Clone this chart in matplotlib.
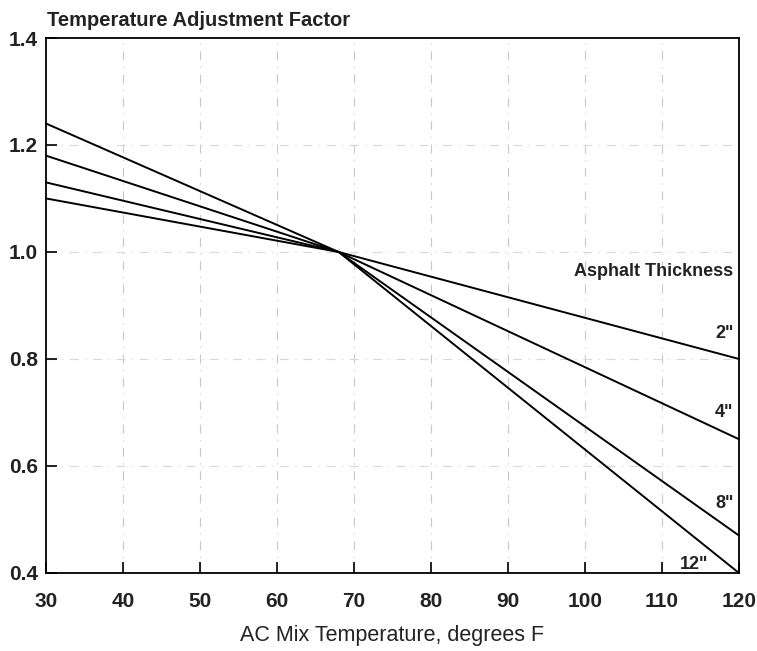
import matplotlib.pyplot as plt
import numpy as np

plt.rcParams['font.family'] = ['Liberation Sans', 'DejaVu Sans']

# temperature points (deg F): left end, pivot, right end
temps = [30, 68, 120]
thickness = ['2"', '4"', '8"', '12"']
factors = {
    '2"': [1.10, 1.0, 0.80],
    '4"': [1.13, 1.0, 0.65],
    '8"': [1.18, 1.0, 0.47],
    '12"': [1.24, 1.0, 0.40],
}
label_pos = {'2"': (119.3, 0.847), '4"': (119.3, 0.70), '8"': (119.3, 0.529), '12"': (116.0, 0.415)}

xticks = np.arange(30, 121, 10)
yticks = [0.4, 0.6, 0.8, 1.0, 1.2, 1.4]

fig = plt.figure(figsize=(7.57, 6.51), dpi=100)
ax = fig.add_axes([0.061, 0.12, 0.915, 0.8216])

for x in xticks[1:-1]:
    ax.axvline(x, color='#c8c8c8', lw=0.8, ls=(0, (8, 6, 1, 6)), zorder=0)
for y in yticks[1:-1]:
    ax.axhline(y, color='#d8d8d8', lw=0.8, ls=(0, (8, 6, 1, 6)), zorder=0)

for t in thickness:
    ax.plot(temps, factors[t], color='black', lw=1.4, clip_on=False)
    lx, ly = label_pos[t]
    ax.text(lx, ly, t, ha='right', va='center', fontsize=13, fontweight='bold', color='#222222')

ax.text(119.2, 0.963, 'Asphalt Thickness', ha='right', va='center', fontsize=13,
        fontweight='bold', color='#222222')

ax.set_xlim(30, 120)
ax.set_ylim(0.4, 1.4)
ax.set_xticks(xticks)
ax.set_yticks(yticks)
ax.set_yticklabels([f'{v:.1f}' for v in yticks])
ax.tick_params(direction='in', length=8, width=1.2, labelsize=15)
ax.tick_params(axis='x', pad=14)
ax.tick_params(axis='y', pad=6)
for lab in ax.get_xticklabels() + ax.get_yticklabels():
    lab.set_fontweight('bold')
    lab.set_color('#222222')
for s in ax.spines.values():
    s.set_linewidth(1.3)

ax.set_xlabel('AC Mix Temperature, degrees F', fontsize=15.5, color='#222222', labelpad=10)
fig.text(0.062, 0.968, 'Temperature Adjustment Factor', ha='left', va='center',
         fontsize=14.5, fontweight='bold', color='#222222')

fig.savefig('out.png', dpi=100)
